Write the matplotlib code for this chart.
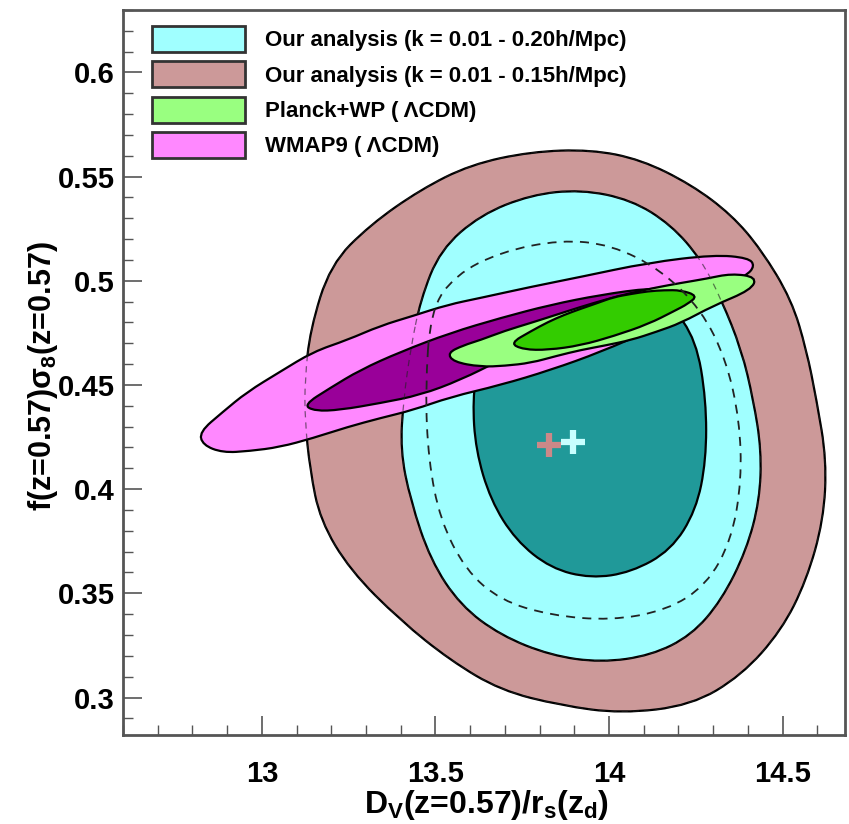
import matplotlib
matplotlib.use("Agg")
import matplotlib.pyplot as plt
from matplotlib.patches import Patch, PathPatch
from matplotlib.path import Path
from matplotlib.ticker import MultipleLocator

plt.rcParams['font.family'] = ['Liberation Sans', 'DejaVu Sans']
plt.rcParams['font.weight'] = 'bold'
plt.rcParams['mathtext.fontset'] = 'custom'
plt.rcParams['mathtext.rm'] = 'Liberation Sans:bold'
plt.rcParams['mathtext.it'] = 'Liberation Sans:bold'
plt.rcParams['mathtext.bf'] = 'Liberation Sans:bold'

# contour outlines (x = D_V/r_s, y = f sigma_8)
k15_2s_x = [13.124, 13.124, 13.139, 13.168, 13.254, 13.399, 13.543, 13.688, 13.861, 14.035,
            14.237, 14.382, 14.497, 14.569, 14.618, 14.627, 14.598, 14.569, 14.526, 14.439,
            14.353, 14.237, 14.092, 13.948, 13.775, 13.601, 13.457, 13.312, 13.197, 13.139]
k15_2s_y = [0.4524, 0.4332, 0.4091, 0.3851, 0.3611, 0.3370, 0.3178, 0.3034, 0.2962, 0.2923,
            0.2962, 0.3106, 0.3322, 0.3562, 0.3851, 0.4139, 0.4428, 0.4668, 0.4909, 0.5149,
            0.5317, 0.5462, 0.5582, 0.5630, 0.5620, 0.5558, 0.5438, 0.5269, 0.5077, 0.4764]

k15_1s_x = [13.486, 13.558, 13.688, 13.861, 14.006, 14.150, 14.266, 14.338, 14.376, 14.382,
            14.353, 14.280, 14.165, 14.006, 13.832, 13.688, 13.587, 13.514, 13.480, 13.471]
k15_1s_y = [0.4861, 0.5029, 0.5139, 0.5197, 0.5173, 0.5053, 0.4861, 0.4620, 0.4332, 0.4043,
            0.3755, 0.3538, 0.3418, 0.3370, 0.3394, 0.3466, 0.3611, 0.3851, 0.4139, 0.4476]

k20_2s_x = [13.457, 13.514, 13.630, 13.775, 13.919, 14.064, 14.179, 14.266, 14.324, 14.382,
            14.416, 14.439, 14.434, 14.396, 14.324, 14.237, 14.121, 13.977, 13.832, 13.688,
            13.572, 13.486, 13.428, 13.399, 13.408, 13.428]
k20_2s_y = [0.4909, 0.5149, 0.5317, 0.5413, 0.5438, 0.5389, 0.5269, 0.5101, 0.4909, 0.4668,
            0.4428, 0.4188, 0.3947, 0.3707, 0.3466, 0.3298, 0.3202, 0.3168, 0.3202, 0.3298,
            0.3442, 0.3659, 0.3947, 0.4188, 0.4428, 0.4668]

k20_1s_x = [13.659, 13.775, 13.919, 14.064, 14.179, 14.251, 14.280, 14.280, 14.251, 14.179,
            14.064, 13.948, 13.832, 13.731, 13.659, 13.616, 13.607, 13.624]
k20_1s_y = [0.4764, 0.4885, 0.4957, 0.4957, 0.4885, 0.4716, 0.4428, 0.4139, 0.3899, 0.3707,
            0.3601, 0.3572, 0.3620, 0.3755, 0.3947, 0.4188, 0.4428, 0.4620]

wmap_2s_x = [12.820, 12.887, 12.957, 13.052, 13.147, 13.246, 13.341, 13.436, 13.535, 13.630,
             13.775, 13.919, 14.113, 14.303, 14.402, 14.420, 14.396, 14.266, 14.121, 13.977,
             13.832, 13.688, 13.543, 13.436, 13.341, 13.246, 13.147, 13.052, 12.965, 12.887,
             12.830]
wmap_2s_y = [0.4274, 0.4370, 0.4466, 0.4563, 0.4659, 0.4716, 0.4784, 0.4832, 0.4885, 0.4918,
             0.4971, 0.5019, 0.5087, 0.5125, 0.5110, 0.5072, 0.5024, 0.4909, 0.4764, 0.4659,
             0.4572, 0.4500, 0.4442, 0.4380, 0.4341, 0.4298, 0.4245, 0.4202, 0.4183, 0.4175,
             0.4212]

wmap_1s_x = [13.120, 13.197, 13.283, 13.399, 13.543, 13.688, 13.832, 13.977, 14.121, 14.220,
             14.121, 13.977, 13.832, 13.688, 13.572, 13.457, 13.341, 13.225, 13.153]
wmap_1s_y = [0.4404, 0.4486, 0.4572, 0.4659, 0.4750, 0.4822, 0.4885, 0.4933, 0.4966, 0.4957,
             0.4909, 0.4837, 0.4740, 0.4620, 0.4524, 0.4452, 0.4413, 0.4380, 0.4375]

planck_2s_x = [13.535, 13.580, 13.630, 13.700, 13.775, 13.850, 13.919, 13.990, 14.064, 14.136,
               14.208, 14.280, 14.353, 14.425, 14.410, 14.300, 14.208, 14.136, 14.064, 13.990,
               13.919, 13.850, 13.775, 13.700, 13.630, 13.552]
planck_2s_y = [0.4654, 0.4690, 0.4716, 0.4760, 0.4798, 0.4838, 0.4875, 0.4910, 0.4942, 0.4968,
               0.4990, 0.5010, 0.5035, 0.5018, 0.4957, 0.4880, 0.4798, 0.4755, 0.4716, 0.4690,
               0.4668, 0.4640, 0.4606, 0.4592, 0.4587, 0.4611]

planck_1s_x = [13.715, 13.775, 13.824, 13.870, 13.919, 13.968, 14.014, 14.064, 14.113, 14.159,
               14.208, 14.255, 14.228, 14.188, 14.113, 14.014, 13.919, 13.824, 13.754]
planck_1s_y = [0.4700, 0.4758, 0.4802, 0.4836, 0.4866, 0.4894, 0.4922, 0.4937, 0.4950, 0.4955,
               0.4955, 0.4928, 0.4890, 0.4855, 0.4792, 0.4735, 0.4690, 0.4668, 0.4670]

# best fit points
best_k15 = (13.827, 0.4211)
best_k20 = (13.896, 0.4226)

labels = ['Our analysis (k = 0.01 - 0.20h/Mpc)',
          'Our analysis (k = 0.01 - 0.15h/Mpc)',
          'Planck+WP ( ΛCDM)',
          'WMAP9 ( ΛCDM)']
legend_colors = ['#a0ffff', '#cc9999', '#99ff80', '#ff88ff']


def smooth_path(xs, ys):
    # closed quadratic bezier through the midpoints of the outline
    pts = list(zip(xs, ys))
    n = len(pts)
    mids = [((pts[i][0] + pts[(i + 1) % n][0]) / 2, (pts[i][1] + pts[(i + 1) % n][1]) / 2)
            for i in range(n)]
    verts = [mids[-1]]
    codes = [Path.MOVETO]
    for i in range(n):
        verts += [pts[i], mids[i]]
        codes += [Path.CURVE3, Path.CURVE3]
    return Path(verts, codes)


def contour(ax, xs, ys, color, z):
    ax.add_patch(PathPatch(smooth_path(xs, ys), facecolor=color, edgecolor='black',
                           linewidth=1.6, zorder=z))


def dashed(ax, xs, ys, lw, alpha, z):
    ax.add_patch(PathPatch(smooth_path(xs, ys), fill=False, edgecolor='#222222', linewidth=lw,
                           linestyle=(0, (5, 4)), alpha=alpha, zorder=z))


fig = plt.figure(figsize=(8.49, 8.24), dpi=100)
ax = fig.add_axes([0.1449, 0.108, 0.8504, 0.8799])

contour(ax, k15_2s_x, k15_2s_y, '#cc9999', 1)
contour(ax, k20_2s_x, k20_2s_y, '#a0ffff', 2)
contour(ax, k20_1s_x, k20_1s_y, '#209999', 3)

ax.plot(best_k15[0], best_k15[1], marker='+', color='#cc8888', markersize=17, mew=4.5, zorder=4)
ax.plot(best_k20[0], best_k20[1], marker='+', color='#c8ffff', markersize=17, mew=4.5, zorder=4)

contour(ax, wmap_2s_x, wmap_2s_y, '#ff88ff', 5)
contour(ax, wmap_1s_x, wmap_1s_y, '#990099', 6)
contour(ax, planck_2s_x, planck_2s_y, '#99ff80', 7)
contour(ax, planck_1s_x, planck_1s_y, '#33cc00', 8)

# outlines showing through the CMB contours
dashed(ax, k15_1s_x, k15_1s_y, 1.3, 1.0, 9)
dashed(ax, k15_2s_x, k15_2s_y, 0.9, 0.6, 9)
dashed(ax, k20_2s_x, k20_2s_y, 0.9, 0.6, 9)

ax.set_xlim(12.6, 14.68)
ax.set_ylim(0.282, 0.630)
ax.xaxis.set_major_locator(MultipleLocator(0.5))
ax.xaxis.set_minor_locator(MultipleLocator(0.1))
ax.yaxis.set_major_locator(MultipleLocator(0.05))
ax.yaxis.set_minor_locator(MultipleLocator(0.01))
ax.tick_params(which='both', direction='in', top=False, right=False, color='#555555',
               labelsize=21)
ax.tick_params(axis='x', which='major', pad=18)
ax.tick_params(axis='y', which='major', pad=6)
ax.tick_params(which='major', length=14, width=1.2)
ax.tick_params(which='minor', length=7, width=1.0)
ax.set_xticks([13, 13.5, 14, 14.5])
ax.set_xticklabels(['13', '13.5', '14', '14.5'])
ax.set_yticks([0.3, 0.35, 0.4, 0.45, 0.5, 0.55, 0.6])
ax.set_yticklabels(['0.3', '0.35', '0.4', '0.45', '0.5', '0.55', '0.6'])
for s in ax.spines.values():
    s.set_color('#555555')
    s.set_linewidth(2)

ax.set_xlabel(r'D$_{V}$(z=0.57)/r$_{s}$(z$_{d}$)', fontsize=23, fontweight='bold')
ax.set_ylabel(r'f(z=0.57)$\sigma_{8}$(z=0.57)', fontsize=22, fontweight='bold')
ax.xaxis.set_label_coords(0.503, -0.073)
ax.yaxis.set_label_coords(-0.087, 0.495)

handles = [Patch(facecolor=c, edgecolor='#333333', linewidth=2) for c in legend_colors]
ax.legend(handles, labels, loc='upper left', bbox_to_anchor=(0.040, 0.978), frameon=False,
          prop={'size': 16, 'weight': 'bold'}, handlelength=4.2, handleheight=1.425,
          labelspacing=0.42, handletextpad=0.9, borderpad=0, borderaxespad=0)

fig.savefig('out.png', dpi=100)
